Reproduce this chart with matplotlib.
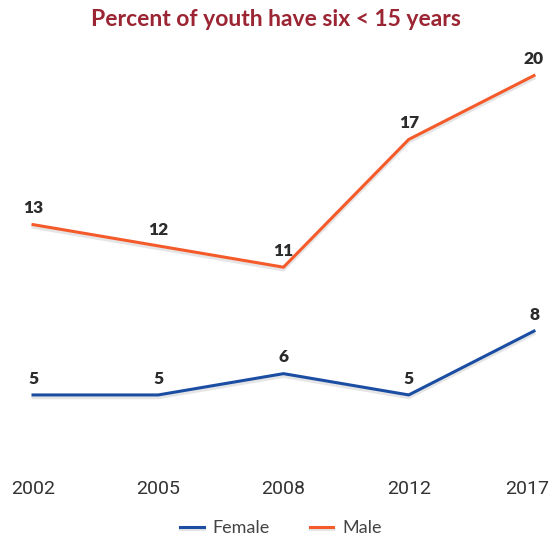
"""Percent of youth have six < 15 years: female vs male line chart -> out.png."""

import matplotlib

matplotlib.use("Agg")
import matplotlib.pyplot as plt  # noqa: E402
import matplotlib.patheffects as pe  # noqa: E402
from matplotlib.transforms import ScaledTranslation  # noqa: E402

years = ["2002", "2005", "2008", "2012", "2017"]
female = [5, 5, 6, 5, 8]
male = [13, 12, 11, 17, 20]

BLUE = "#1b4ea3"
ORANGE = "#f45a2a"
TITLE = "#9b2533"
LABEL = "#2b2b2b"

plt.rcParams["font.family"] = ["Lato", "DejaVu Sans"]

fig = plt.figure(figsize=(5.51, 5.45), dpi=100)
ax = fig.add_axes([33 / 551, 80 / 545, 501 / 551, 405 / 545])

xs = list(range(len(years)))
shadow = [pe.SimpleLineShadow(offset=(0, -2), shadow_color="#000000", alpha=0.1), pe.Normal()]
ax.plot(xs, female, color=BLUE, lw=2.2, label="Female", path_effects=shadow, clip_on=False)
ax.plot(xs, male, color=ORANGE, lw=2.2, label="Male", path_effects=shadow, clip_on=False)

for series in (female, male):
    for x, v in zip(xs, series):
        ax.annotate(str(v), (x, v), xytext=(0, 6), textcoords="offset points",
                    ha="center", va="bottom", fontsize=12.5, fontweight="heavy",
                    color=LABEL, annotation_clip=False)

ax.set_xlim(0, len(years) - 1)
ax.set_ylim(1.71, 20.73)
ax.set_xticks(xs)
ax.set_xticklabels(years, fontsize=14, color="#333333", family=["Roboto", "DejaVu Sans"])
ax.tick_params(axis="x", length=0, pad=11)
ax.set_yticks([])
for s in ax.spines.values():
    s.set_visible(False)

fig.text(0.5, 1 - 20 / 545, "Percent of youth have six < 15 years", ha="center", va="center",
         fontsize=16.5, fontweight="bold", color=TITLE)

fig.legend(loc="center", bbox_to_anchor=(0.51, 1 - 528 / 545), ncol=2, frameon=False,
           fontsize=13, handlelength=1.3, handletextpad=0.5, columnspacing=2.2,
           labelcolor="#444444")

# keep the last year label inside the figure, right-aligned as in the reference
fig.canvas.draw()
last = ax.get_xticklabels()[-1]
last.set_ha("right")
last.set_transform(last.get_transform() + ScaledTranslation(15 / 100, 0, fig.dpi_scale_trans))

fig.savefig("out.png", dpi=100)
